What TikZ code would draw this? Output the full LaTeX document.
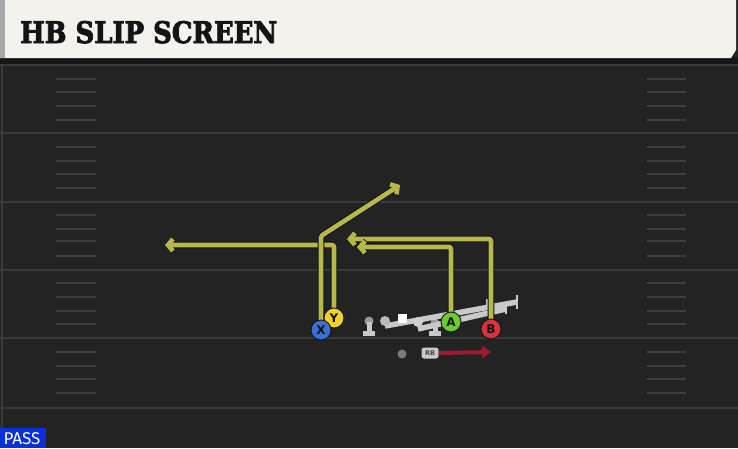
\documentclass[tikz,border=0pt]{standalone}
\usepackage{fontspec}
\usepackage{graphicx}
\usetikzlibrary{arrows.meta}
\newfontfamily\titlefont{DejaVu Serif}[BoldFeatures={FakeBold=3}]
\newfontfamily\labfont{DejaVu Sans}
\newfontfamily\passfont{Fira Sans}
\definecolor{bg}{HTML}{232323}
\definecolor{fieldline}{HTML}{3A3A3A}
\definecolor{hashc}{HTML}{3D3D3D}
\definecolor{cream}{HTML}{F4F2EC}
\definecolor{stripe}{HTML}{A8A8A8}
\definecolor{darkband}{HTML}{161616}
\definecolor{olive}{HTML}{B6B84C}
\definecolor{outl}{HTML}{141414}
\definecolor{xblue}{HTML}{3C6FD2}
\definecolor{yyellow}{HTML}{F3D02C}
\definecolor{agreen}{HTML}{6CCB2E}
\definecolor{bred}{HTML}{D8323F}
\definecolor{lgray}{HTML}{C9C9C9}
\definecolor{mgray}{HTML}{9A9A9A}
\definecolor{rbred}{HTML}{9B1B30}
\definecolor{passblue}{HTML}{0B2FD8}
\tikzset{
  player/.style={circle, draw=outl, line width=0.9pt, minimum size=20pt, inner sep=0pt,
    font=\labfont\bfseries\fontsize{12}{12}\selectfont, text=outl},
  routeo/.style={draw=outl, line width=6.6pt, line join=round, rounded corners=1.5pt,
    -{Straight Barb[length=5pt,width=12pt]}},
  routei/.style={draw=olive, line width=4.6pt, line join=round, rounded corners=1.5pt,
    -{Straight Barb[length=5pt,width=12pt]}},
  blk/.style={draw=lgray, line width=5.5pt},
  blkbar/.style={draw=lgray, line width=2.6pt},
  hashmark/.style={draw=hashc, line width=1.8pt},
  fline/.style={draw=fieldline, line width=1.6pt},
  rbbox/.style={rounded corners=2.5pt, fill=lgray, minimum width=17pt, minimum height=11pt,
    inner sep=0pt, font=\labfont\bfseries\fontsize{6.5}{6.5}\selectfont, text=outl!80},
}
\begin{document}
\begin{tikzpicture}[x=1pt,y=-1pt]
\useasboundingbox (0,0) rectangle (738,448);
\fill[bg] (0,0) rectangle (738,448);
% field lines
\foreach \yy in {65,133,202,270,338,408} \draw[fline] (0,\yy) -- (738,\yy);
\draw[fieldline, line width=1.2pt] (2,64) -- (2,448);
\foreach \yy in {79,92,106,120,147,161,174,188,215,229,241,256,283,297,311,324,352,366,379,393}{
  \draw[hashmark] (56,\yy) -- (96,\yy);
  \draw[hashmark] (647,\yy) -- (686,\yy);
}
% title bar
\fill[darkband] (0,57) rectangle (738,64);
\fill[cream] (0,0) -- (736,0) -- (736,50) -- (731,58) -- (0,58) -- cycle;
\fill[stripe] (0,0) rectangle (5,58);
\node[anchor=base west, inner sep=0pt, text=outl] (title) at (20,43)
  {\resizebox{257pt}{22pt}{\titlefont\bfseries HB SLIP SCREEN}};
% offensive line
\fill[mgray] (369,321) circle (4.5);
\fill[lgray] (366.5,322) rectangle (371.5,332);
\fill[lgray] (363,331) rectangle (375,336);
\fill[mgray] (435,323) circle (4.5);
\fill[lgray] (432.5,324) rectangle (437.5,332);
\fill[lgray] (429,331) rectangle (441,336);
\coordinate (l1a) at (385,326);
\coordinate (l1b) at (517,302);
\coordinate (l2a) at (418,329);
\coordinate (l2b) at (506,309);
\draw[blk] (l1a) -- (l1b);
\draw[blkbar] (517,295) -- (517,309);
\draw[blkbar] (487,299) -- (487,308);
\draw[blk] (l2a) -- (l2b);
\draw[blkbar] (506,302) -- (506,314);
\draw[blkbar] (497,304) -- (497,311);
\fill[lgray!80!gray] (385,321) circle (5);
\fill[white] (397.5,313.5) rectangle (406.5,322.5);
\fill[lgray!90!white] (418,322) circle (5);
% ball
\fill[mgray!80!black] (402,354) circle (4.5);
% route waypoints
\coordinate (xturn) at (321,236);
\coordinate (xend) at (400,185);
\coordinate (yturn) at (334,245);
\coordinate (yend) at (165,245);
\coordinate (aturn) at (451,247);
\coordinate (aend) at (357,247);
\coordinate (bturn) at (491,239);
\coordinate (bend) at (347,239);
\coordinate (rbend) at (491,352);
% players (positions)
\coordinate (Xp) at (321,330);
\coordinate (Yp) at (334,318);
\coordinate (Ap) at (451,322);
\coordinate (Bp) at (491,329);
% routes
\draw[routeo] (Bp) -- (bturn) -- (bend);
\draw[routei] (Bp) -- (bturn) -- (bend);
\draw[routeo] (Ap) -- (aturn) -- (aend);
\draw[routei] (Ap) -- (aturn) -- (aend);
\draw[routeo] (Yp) -- (yturn) -- (yend);
\draw[routei] (Yp) -- (yturn) -- (yend);
\draw[routeo] (Xp) -- (xturn) -- (xend);
\draw[routei] (Xp) -- (xturn) -- (xend);
% RB
\node[rbbox] (RB) at (430,353) {RB};
\draw[rbred, line width=4pt, -{Triangle[length=9pt,width=12pt]}] (RB.east) -- (rbend);
% player circles
\node[player, fill=yyellow] (Y) at (Yp) {Y};
\node[player, fill=xblue] (X) at (Xp) {X};
\node[player, fill=agreen] (A) at (Ap) {A};
\node[player, fill=bred] (B) at (Bp) {B};
% pass tag
\fill[passblue] (0,428) rectangle (46,448);
\node[inner sep=0pt, text=white, font=\passfont\fontsize{17}{17}\selectfont] (pass) at (22,438.5) {PASS};
\end{tikzpicture}
\end{document}
